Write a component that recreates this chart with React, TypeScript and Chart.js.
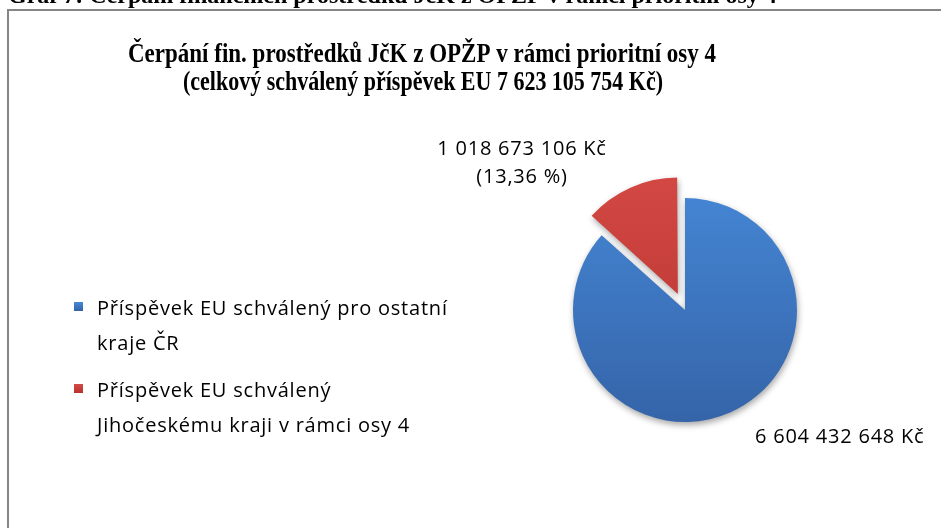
import React, { useEffect, useRef } from 'react';
import { Chart, registerables } from 'chart.js';

Chart.register(...registerables);

// ---- data ----
const captionText = 'Graf 7: Čerpání finančních prostředků JčK z OPŽP v rámci prioritní osy 4';
const titleLines = [
  'Čerpání fin. prostředků JčK z OPŽP v rámci prioritní osy 4',
  '(celkový schválený příspěvek EU 7 623 105 754 Kč)',
];
const categories = [
  'Příspěvek EU schválený pro ostatní kraje ČR',
  'Příspěvek EU schválený Jihočeskému kraji v rámci osy 4',
];
const legendLines = [
  ['Příspěvek EU schválený pro ostatní', 'kraje ČR'],
  ['Příspěvek EU schválený', 'Jihočeskému kraji v rámci osy 4'],
];
const values = [6604432648, 1018673106];
const valueLabels = ['6 604 432 648 Kč', '1 018 673 106 Kč'];
const percentLabels = ['', '(13,36 %)'];
const topColors = ['#4689D8', '#D64A45'];
const bottomColors = ['#3462A6', '#B5322F'];
const explode = [0, 70];

const SANS = '"Open Sans", "Noto Sans", sans-serif';
const SERIF = '"Liberation Serif", "Times New Roman", serif';

function withSpacing(ctx: CanvasRenderingContext2D, ls: number, fn: () => void) {
  (ctx as any).letterSpacing = ls.toFixed(2) + 'px';
  fn();
  (ctx as any).letterSpacing = '0px';
}

const decorPlugin = {
  id: 'decor',
  beforeDraw(chart: any) {
    const ctx = chart.ctx as CanvasRenderingContext2D;
    ctx.save();
    ctx.fillStyle = '#ffffff';
    ctx.fillRect(0, 0, chart.width, chart.height);
    ctx.strokeStyle = '#868686';
    ctx.lineWidth = 2;
    ctx.strokeRect(8, 10, chart.width + 20, chart.height + 20);
    ctx.fillStyle = '#000';
    ctx.font = 'bold 24px ' + SERIF;
    ctx.textBaseline = 'alphabetic';
    ctx.textAlign = 'left';
    ctx.fillText(captionText, 8, 3, 840);
    ctx.restore();
  },
  beforeDatasetsDraw(chart: any) {
    const ctx = chart.ctx as CanvasRenderingContext2D;
    ctx.save();
    ctx.shadowColor = 'rgba(0,0,0,0.35)';
    ctx.shadowBlur = 6;
    ctx.shadowOffsetX = 1;
    ctx.shadowOffsetY = 3;
  },
  afterDatasetsDraw(chart: any) {
    chart.ctx.restore();
  },
  afterDraw(chart: any) {
    const ctx = chart.ctx as CanvasRenderingContext2D;
    ctx.save();
    ctx.fillStyle = '#000';
    ctx.textBaseline = 'alphabetic';
    // title
    ctx.font = 'bold 27px ' + SERIF;
    ctx.textAlign = 'center';
    ctx.fillText(titleLines[0], 422, 62, 588);
    ctx.fillText(titleLines[1], 423, 90, 480);
    // legend + labels share one font and spacing
    ctx.textAlign = 'left';
    const sz = 20;
    ctx.font = sz + 'px ' + SANS;
    const ref = legendLines[0][0];
    const ls = Math.max(0, (350 - ctx.measureText(ref).width) / (ref.length - 1));
    const legendTops = [302, 384];
    withSpacing(ctx, ls, () => {
      legendLines.forEach((lines, i) => {
        const top = legendTops[i];
        const g = ctx.createLinearGradient(0, top, 0, top + 9);
        g.addColorStop(0, topColors[i]);
        g.addColorStop(1, bottomColors[i]);
        ctx.fillStyle = g;
        ctx.fillRect(74, top, 9, 9);
        ctx.fillStyle = '#000';
        lines.forEach((t, j) => {
          ctx.fillText(t, 97, top + 13 + j * 35);
        });
      });
      // data labels
      const meta = chart.getDatasetMeta(0);
      const blue = meta.data[0];
      const cx = blue.x, cy = blue.y;
      ctx.textAlign = 'center';
      ctx.fillText(valueLabels[1], cx - 163, cy - 155);
      ctx.fillText(percentLabels[1], cx - 163, cy - 127);
      ctx.textAlign = 'left';
      ctx.fillText(valueLabels[0], cx + 70, cy + 133);
    });
    ctx.restore();
  },
};

export default function App() {
  const ref = useRef<HTMLCanvasElement | null>(null);
  useEffect(() => {
    if (!ref.current) return;
    const chart = new Chart(ref.current, {
      type: 'pie',
      data: {
        labels: categories,
        datasets: [
          {
            data: values,
            offset: explode,
            borderWidth: 0,
            backgroundColor: (c: any) => {
              const ch = c.chart;
              const ca = ch.chartArea;
              const i = c.dataIndex;
              if (!ca) return topColors[i];
              const g = ch.ctx.createLinearGradient(0, ca.top - 20, 0, ca.bottom);
              g.addColorStop(0, topColors[i]);
              g.addColorStop(1, bottomColors[i]);
              return g;
            },
          } as any,
        ],
      },
      options: {
        responsive: false,
        animation: false,
        radius: 112,
        rotation: 0,
        layout: { padding: { left: 560, right: 131, top: 185, bottom: 93 } },
        plugins: {
          legend: { display: false },
          tooltip: { enabled: false },
          title: { display: false },
        },
      } as any,
      plugins: [decorPlugin],
    });
    return () => chart.destroy();
  }, []);
  return (
    <div style={{ position: 'fixed', left: 0, top: 0, width: 941, height: 528, background: '#fff' }}>
      <canvas ref={ref} width={941} height={528} style={{ display: 'block', width: 941, height: 528 }} />
    </div>
  );
}
